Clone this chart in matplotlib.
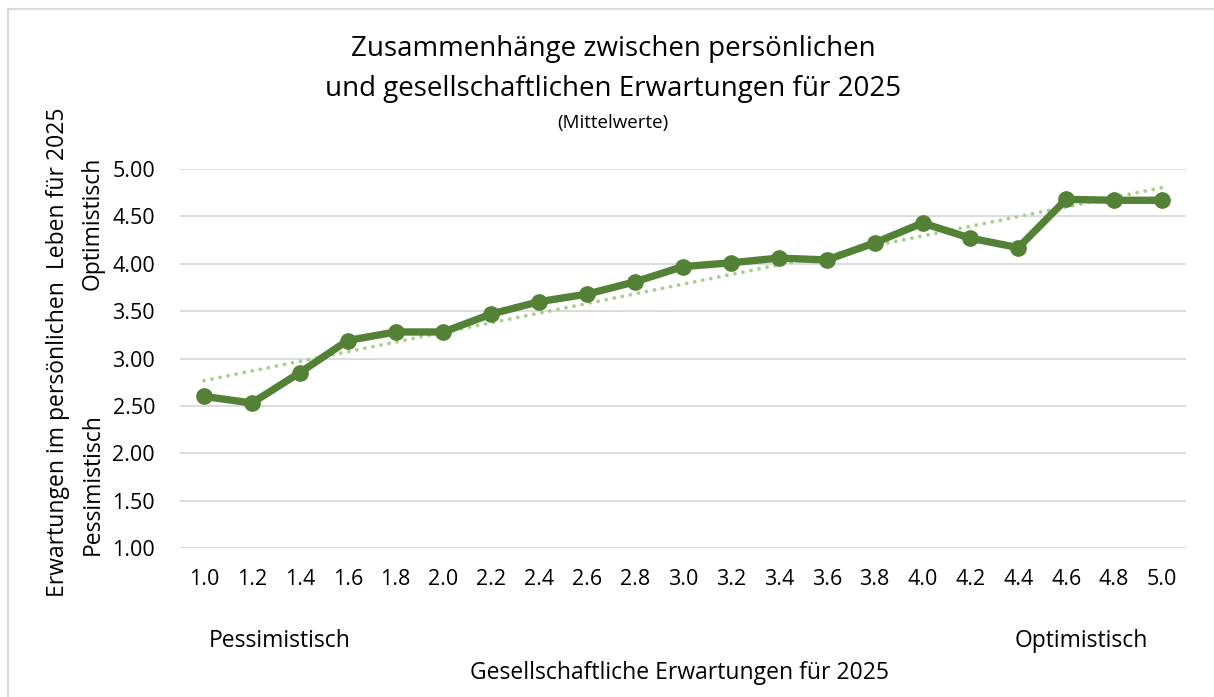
import numpy as np
import matplotlib.pyplot as plt
from matplotlib.patches import Rectangle

plt.rcParams['font.family'] = ['Open Sans', 'DejaVu Sans']

# Daten (Mittelwerte)
gesellschaft = [1.0, 1.2, 1.4, 1.6, 1.8, 2.0, 2.2, 2.4, 2.6, 2.8, 3.0,
                3.2, 3.4, 3.6, 3.8, 4.0, 4.2, 4.4, 4.6, 4.8, 5.0]
persoenlich = [2.60, 2.53, 2.85, 3.19, 3.28, 3.28, 3.47, 3.60, 3.68, 3.81, 3.97,
               4.01, 4.06, 4.04, 4.22, 4.43, 4.27, 4.17, 4.68, 4.67, 4.67]
y_ticks = [1.0, 1.5, 2.0, 2.5, 3.0, 3.5, 4.0, 4.5, 5.0]

dunkelgruen = '#538135'
hellgruen = '#A9D18E'

fig = plt.figure(figsize=(12.14, 6.97), dpi=100)
ax = fig.add_axes([0.1483, 0.2138, 0.8286, 0.5437])

pos = np.arange(len(gesellschaft))

# lineare Trendlinie
k, d = np.polyfit(pos, persoenlich, 1)
ax.plot(pos, k * pos + d, color=hellgruen, lw=2.8, linestyle=(0, (0.01, 2.1)),
        dash_capstyle='round', zorder=2)

ax.plot(pos, persoenlich, color=dunkelgruen, lw=5.3, marker='o', markersize=11,
        solid_joinstyle='round', zorder=3)

ax.set_xlim(-0.5, len(pos) - 0.5)
ax.set_ylim(1, 5)
ax.set_yticks(y_ticks)
ax.set_yticklabels([f'{v:.2f}' for v in y_ticks])
ax.set_xticks(pos)
ax.set_xticklabels([f'{v:.1f}' for v in gesellschaft])
ax.tick_params(axis='both', length=0, labelsize=15.5, colors='#000000')
ax.tick_params(axis='x', pad=15)
ax.tick_params(axis='y', pad=18)
ax.grid(axis='y', color='#D9D9D9', lw=1.3)
ax.set_axisbelow(True)
for s in ax.spines.values():
    s.set_visible(False)

# Titel
fig.text(0.505, 0.930, 'Zusammenhänge zwischen persönlichen', ha='center', va='center', fontsize=20)
fig.text(0.505, 0.872, 'und gesellschaftlichen Erwartungen für 2025', ha='center', va='center', fontsize=20)
fig.text(0.505, 0.823, '(Mittelwerte)', ha='center', va='center', fontsize=13.5)

# Achsentitel
fig.text(0.048, 0.494, 'Erwartungen im persönlichen  Leben für 2025', rotation=90,
         ha='center', va='center', fontsize=16.5)
fig.text(0.076, 0.306, 'Pessimistisch', rotation=90, ha='center', va='center', fontsize=16.5)
fig.text(0.076, 0.679, 'Optimistisch', rotation=90, ha='center', va='center', fontsize=16.5)
fig.text(0.2305, 0.080, 'Pessimistisch', ha='center', va='center', fontsize=16.5)
fig.text(0.8905, 0.080, 'Optimistisch', ha='center', va='center', fontsize=16.5)
fig.text(0.56, 0.034, 'Gesellschaftliche Erwartungen für 2025', ha='center', va='center', fontsize=16.5)

# Rahmen
fig.patches.append(Rectangle((8 / 1214, -0.05), 1.2, 1 - 9 / 697 + 0.05, transform=fig.transFigure,
                             fill=False, edgecolor='#D9D9D9', lw=1.5))

fig.savefig('out.png', dpi=100)
